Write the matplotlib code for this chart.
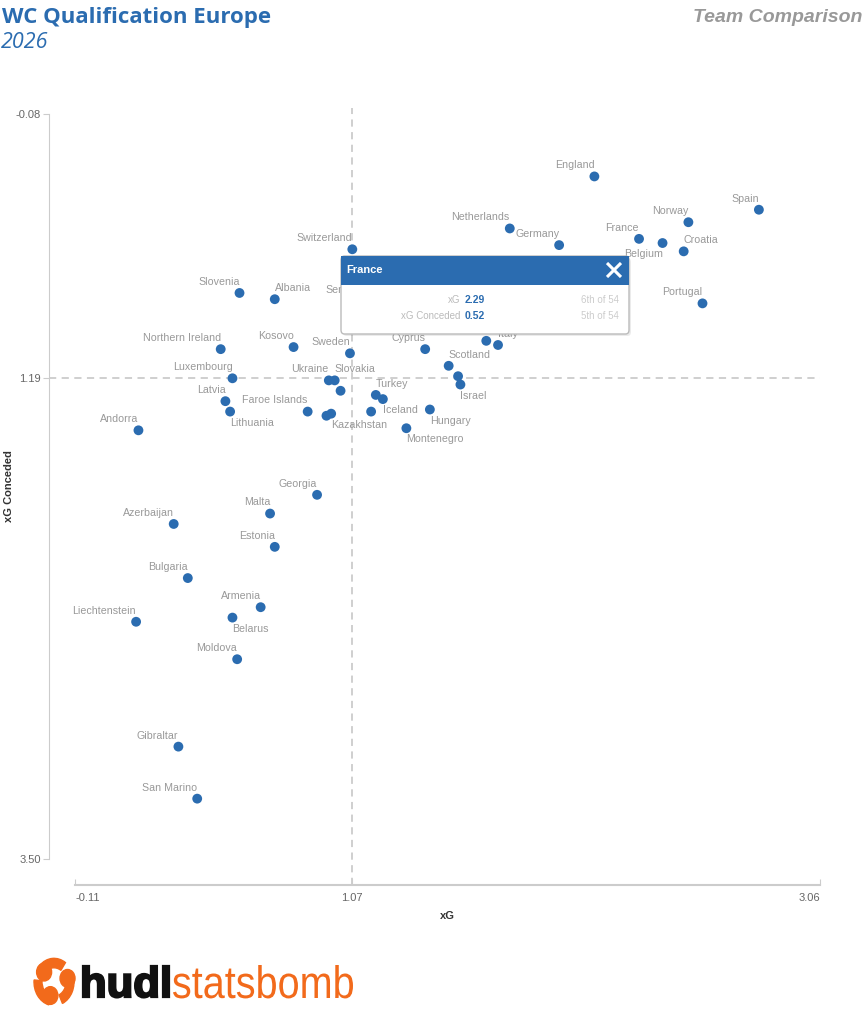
import math
import matplotlib.pyplot as plt
from matplotlib.patches import FancyBboxPatch, Rectangle, Wedge, Circle, PathPatch
from matplotlib.textpath import TextPath
from matplotlib.font_manager import FontProperties
from matplotlib.transforms import Affine2D

# ---- data (xG per game, xG conceded per game) ----
teams = ["England", "Spain", "Netherlands", "Germany", "France", "Belgium", "Norway",
         "Croatia", "Portugal", "Switzerland", "Slovenia", "Albania", "Serbia",
         "Northern Ireland", "Kosovo", "Sweden", "Cyprus", "Poland", "Italy", "Scotland",
         "Greece", "Israel", "Luxembourg", "Ukraine", "Slovakia", "Finland", "Turkey",
         "Iceland", "Latvia", "Lithuania", "Faroe Islands", "Wales", "Kazakhstan",
         "Romania", "Hungary", "Montenegro", "Andorra", "Georgia", "Malta", "Azerbaijan",
         "Estonia", "Bulgaria", "Armenia", "Belarus", "Liechtenstein", "Moldova",
         "Gibraltar", "San Marino"]
xg = [2.10, 2.80, 1.74, 1.95, 2.29, 2.39, 2.50,
      2.48, 2.56, 1.07, 0.59, 0.74, 1.09,
      0.51, 0.82, 1.06, 1.38, 1.64, 1.69, 1.48,
      1.52, 1.53, 0.56, 0.97, 0.995, 1.02, 1.17,
      1.20, 0.53, 0.55, 0.88, 0.96, 0.98,
      1.15, 1.40, 1.30, 0.16, 0.92, 0.72, 0.31,
      0.74, 0.37, 0.68, 0.56, 0.15, 0.58,
      0.33, 0.41]
xga = [0.22, 0.38, 0.47, 0.55, 0.52, 0.54, 0.44,
       0.58, 0.83, 0.57, 0.78, 0.81, 0.82,
       1.05, 1.04, 1.07, 1.05, 1.01, 1.03, 1.13,
       1.18, 1.22, 1.19, 1.20, 1.20, 1.25, 1.27,
       1.29, 1.30, 1.35, 1.35, 1.37, 1.36,
       1.35, 1.34, 1.43, 1.44, 1.75, 1.84, 1.89,
       2.00, 2.15, 2.29, 2.34, 2.36, 2.54,
       2.96, 3.21]

x_ticks = [-0.11, 1.07, 3.06]
y_ticks = [-0.08, 1.19, 3.50]
x_median = 1.07
y_median = 1.19

# label placement: tl = up-left, tr = up-right, bl = down-left, br = down-right
label_pos = {"Croatia": "tr", "Albania": "tr", "Italy": "tr", "Scotland": "tr",
             "Slovakia": "tr", "Turkey": "tr", "Belgium": "bl", "Israel": "br",
             "Lithuania": "br", "Kazakhstan": "br", "Iceland": "br", "Hungary": "br",
             "Montenegro": "br", "Belarus": "br"}
hidden_labels = {"Poland", "Greece", "Finland", "Wales", "Romania"}

BLUE = "#2b6cb0"
ORANGE = "#f26a1b"
W, H = 865, 1024
plt.rcParams['font.family'] = ['Liberation Sans', 'DejaVu Sans']

fig = plt.figure(figsize=(W / 100, H / 100), dpi=100)


def fx(px):
    return px / W


def fy(py):
    return 1 - py / H


ax = fig.add_axes([fx(75), fy(859), 745 / W, 745 / H])
ax.set_xlim(x_ticks[0], x_ticks[-1])
ax.set_ylim(y_ticks[-1], y_ticks[0])

for s in ["top", "right"]:
    ax.spines[s].set_visible(False)
ax.spines["left"].set_position(("outward", 18.7))
ax.spines["bottom"].set_position(("outward", 18.7))
ax.spines["left"].set_color("#cccccc")
ax.spines["bottom"].set_color("#cccccc")
ax.spines["bottom"].set_linewidth(1.5)

ax.set_xticks(x_ticks)
ax.set_xticklabels([f"{v:.2f}" for v in x_ticks])
ax.set_yticks(y_ticks)
ax.set_yticklabels([f"{v:.2f}" for v in y_ticks])
ax.tick_params(axis="y", direction="out", length=4, color="#cccccc",
               labelcolor="#666666", labelsize=8, pad=2)
ax.tick_params(axis="x", direction="in", length=4, color="#cccccc",
               labelcolor="#666666", labelsize=8, pad=6)
xl = ax.get_xticklabels()
xl[0].set_ha("left")
xl[-1].set_ha("right")

ax.axvline(x_median, ymin=-0.035, ymax=1.008, color="#cccccc", lw=1.3,
           ls=(0, (4, 3)), clip_on=False, zorder=1)
ax.axhline(y_median, xmin=-0.035, xmax=1, color="#cccccc", lw=1.3,
           ls=(0, (4, 3)), clip_on=False, zorder=1)

ax.scatter(xg, xga, s=50, color=BLUE, edgecolors="none", zorder=3, clip_on=False)

for name, x, y in zip(teams, xg, xga):
    if name in hidden_labels:
        continue
    pos = label_pos.get(name, "tl")
    dy = 8 if pos[0] == "t" else -8
    ha = "right" if pos[1] == "l" else "left"
    ax.annotate(name, (x, y), xytext=(0, dy), textcoords="offset points",
                ha=ha, va="center", fontsize=7.7, color="#999999", zorder=4)

fig.text(fx(447), fy(916), "xG", fontsize=8, fontweight="bold", color="#333333",
         ha="center", va="center")
fig.text(fx(9), fy(486), "xG Conceded", fontsize=8, fontweight="bold", color="#333333",
         ha="center", va="center", rotation=90)

# titles
fig.text(fx(2), fy(17), "WC Qualification Europe", fontsize=16, fontweight="bold",
         color=BLUE, family="Open Sans", ha="left", va="center")
fig.text(fx(1), fy(42), "2026", fontsize=15.5, style="italic", color=BLUE,
         family="Open Sans", ha="left", va="center")
fig.text(fx(862), fy(17), "Team Comparison", fontsize=14, fontweight="bold",
         style="italic", color="#999999", ha="right", va="center")

# tooltip for France
tx0, ty0, tx1, ty1 = 341, 256, 629, 334
shadow = FancyBboxPatch((fx(tx0 + 2), fy(ty1 + 2)), (tx1 - tx0) / W, (ty1 - ty0) / H,
                        boxstyle="round,pad=0,rounding_size=0.004", transform=fig.transFigure,
                        facecolor="#000000", alpha=0.08, edgecolor="none", zorder=9)
box = FancyBboxPatch((fx(tx0), fy(ty1)), (tx1 - tx0) / W, (ty1 - ty0) / H,
                     boxstyle="round,pad=0,rounding_size=0.004", transform=fig.transFigure,
                     facecolor="white", edgecolor="#bbbbbb", lw=1, zorder=10)
head = Rectangle((fx(tx0), fy(285)), (tx1 - tx0) / W, (285 - ty0) / H,
                 transform=fig.transFigure, facecolor=BLUE, edgecolor="none", zorder=11)
for p in (shadow, box, head):
    fig.add_artist(p)
fig.text(fx(346), fy(270), "France", fontsize=8, fontweight="bold", color="white",
         ha="left", va="center", zorder=12)
# close icon
for (a, b), (c, d) in [((607, 263), (621, 277)), ((607, 277), (621, 263))]:
    fig.add_artist(plt.Line2D([fx(a), fx(c)], [fy(b), fy(d)], transform=fig.transFigure,
                              color="white", lw=2.2, solid_capstyle="butt", zorder=12))
rows = [("xG", xg[teams.index("France")], "6th of 54", 300),
        ("xG Conceded", xga[teams.index("France")], "5th of 54", 316)]
for lab, val, rank, yy in rows:
    fig.text(fx(460), fy(yy), lab, fontsize=7, color="#bbbbbb", ha="right", va="center", zorder=12)
    fig.text(fx(465), fy(yy), f"{val:.2f}", fontsize=7.5, fontweight="bold", color=BLUE,
             ha="left", va="center", zorder=12)
    fig.text(fx(619), fy(yy), rank, fontsize=7, color="#cccccc", ha="right", va="center", zorder=12)

# logo icon: three blobs in a ring
cx, cy = 54, 982
for ang in (100, 220, 340):
    fig.add_artist(Wedge((fx(cx), fy(cy)), 20 / W, ang - 45, ang + 35, width=8 / W,
                         transform=fig.transFigure, color=ORANGE))
    bx = cx + 14 * math.cos(math.radians(ang + 35))
    by = cy - 14 * math.sin(math.radians(ang + 35))
    fig.add_artist(Circle((fx(bx), fy(by)), 7.5 / W, transform=fig.transFigure, color=ORANGE))


def logo_word(text, x0, x1, top, base, weight, color, stroke=0):
    tp = TextPath((0, 0), text, size=1, prop=FontProperties(family="Liberation Sans", weight=weight))
    bb = tp.get_extents()
    sx = (x1 - x0) / bb.width
    sy = (base - top) / bb.y1
    tr = Affine2D().translate(-bb.x0, 0).scale(sx / W, sy / H).translate(fx(x0), fy(base))
    fig.add_artist(PathPatch(tp, transform=tr + fig.transFigure, facecolor=color,
                             edgecolor=color if stroke else "none", lw=stroke))


logo_word("hudl", 83, 169, 966, 997, "bold", "#111111", stroke=1.6)
logo_word("statsbomb", 173, 353, 965, 998, "normal", ORANGE)

fig.savefig("out.png", dpi=100)
